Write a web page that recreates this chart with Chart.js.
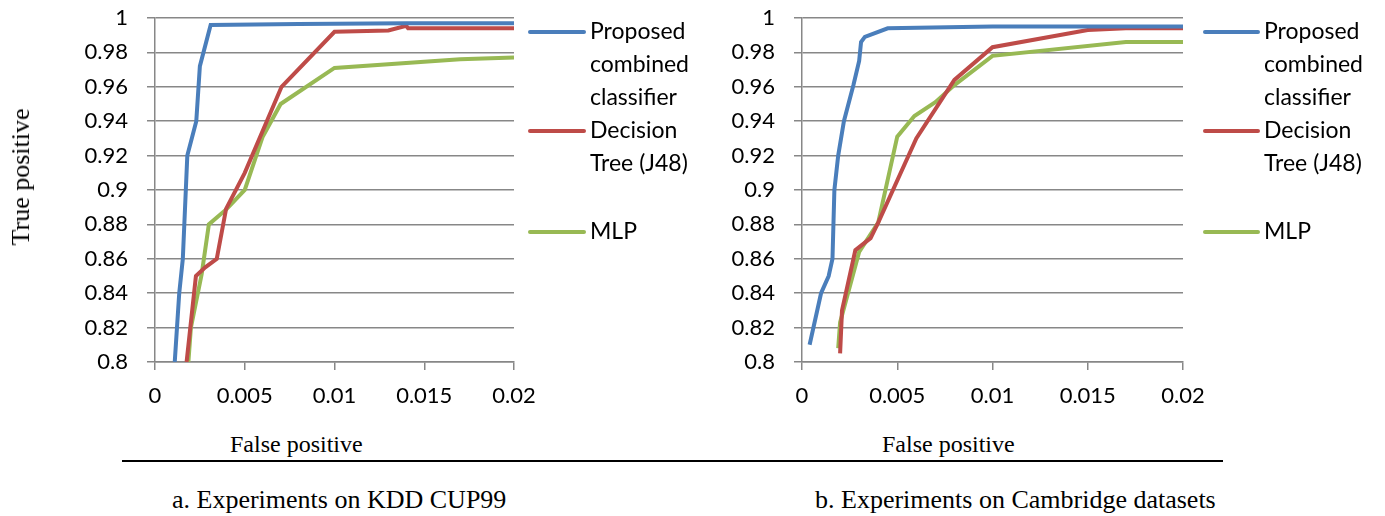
<!DOCTYPE html>
<html>
<head>
<meta charset="utf-8">
<script src="https://cdn.jsdelivr.net/npm/chart.js@4.4.1/dist/chart.umd.min.js"></script>
<style>
body { margin: 0; background: #fff; width: 1385px; height: 516px; position: relative; overflow: hidden; }
canvas { position: absolute; top: 0; }
#kddChart { left: 0; }
#camChart { left: 650px; }
.serif { position: absolute; font-family: "Liberation Serif", "Times New Roman", serif; color: #000; white-space: nowrap; line-height: 1; }
.axis-x { font-size: 24px; top: 432px; }
.caption { font-size: 26px; top: 487px; }
#yTitle { font-size: 26px; left: 21px; top: 177px; transform: translate(-50%, -50%) rotate(-90deg); }
#rule { position: absolute; left: 122px; width: 1101px; top: 460px; height: 2px; background: #000; }
</style>
</head>
<body>
<canvas id="kddChart" width="700" height="420"></canvas>
<canvas id="camChart" width="735" height="420"></canvas>
<div class="serif" id="yTitle">True positive</div>
<div class="serif axis-x" style="left:230px">False positive</div>
<div class="serif axis-x" style="left:882px">False positive</div>
<div id="rule"></div>
<div class="serif caption" style="left:172px">a. Experiments on KDD CUP99</div>
<div class="serif caption" style="left:815px">b. Experiments on Cambridge datasets</div>
<script>
// tick values
const xTicks = [0, 0.005, 0.01, 0.015, 0.02];
const yTicks = [0.8, 0.82, 0.84, 0.86, 0.88, 0.9, 0.92, 0.94, 0.96, 0.98, 1];

const seriesLabels = [['Proposed', 'combined', 'classifier'], ['Decision', 'Tree (J48)'], ['MLP']];
const seriesColors = ['#4A7EBB', '#BE4B48', '#98B954'];

// a. KDD CUP99 (false positive / true positive)
const kddProposedFp = [0.0011, 0.00135, 0.00155, 0.0018, 0.0023, 0.0025, 0.0031, 0.008, 0.014, 0.02];
const kddProposedTp = [0.8, 0.84, 0.86, 0.92, 0.94, 0.972, 0.996, 0.9965, 0.997, 0.997];
const kddTreeFp = [0.00176, 0.00228, 0.0028, 0.00344, 0.00396, 0.005, 0.00705, 0.01, 0.013, 0.014, 0.0141, 0.02];
const kddTreeTp = [0.8, 0.85, 0.855, 0.86, 0.889, 0.91, 0.96, 0.992, 0.9928, 0.9955, 0.994, 0.994];
const kddMlpFp = [0.00186, 0.002, 0.0026, 0.003, 0.004, 0.005, 0.006, 0.007, 0.01, 0.017, 0.02];
const kddMlpTp = [0.8, 0.82, 0.851, 0.88, 0.889, 0.9, 0.931, 0.95, 0.971, 0.976, 0.977];

// b. Cambridge datasets
const camProposedFp = [0.0004, 0.001, 0.0014, 0.0016, 0.0017, 0.0019, 0.0022, 0.0027, 0.003, 0.0031, 0.0033, 0.0045, 0.01, 0.02];
const camProposedTp = [0.81, 0.84, 0.85, 0.86, 0.9, 0.92, 0.94, 0.961, 0.975, 0.986, 0.989, 0.994, 0.995, 0.995];
const camTreeFp = [0.002, 0.0021, 0.0028, 0.0036, 0.004, 0.006, 0.008, 0.01, 0.015, 0.017, 0.02];
const camTreeTp = [0.805, 0.83, 0.865, 0.872, 0.881, 0.93, 0.964, 0.983, 0.993, 0.994, 0.994];
const camMlpFp = [0.0019, 0.002, 0.003, 0.004, 0.005, 0.0059, 0.007, 0.008, 0.01, 0.017, 0.02];
const camMlpTp = [0.808, 0.823, 0.864, 0.881, 0.931, 0.943, 0.951, 0.961, 0.978, 0.986, 0.986];

const gridColor = '#878787';
const tickFont = { family: 'Lato', size: 22 };

function toPoints(xs, ys) {
    return xs.map((x, i) => ({ x: x, y: ys[i] }));
}

// legend drawn at the right of the plot, with wrapped labels
const sideLegend = {
    id: 'sideLegend',
    afterDraw(chart, args, opts) {
        const ctx = chart.ctx;
        const x0 = chart.chartArea.right + opts.gap;
        ctx.save();
        ctx.font = '23px Lato';
        ctx.textBaseline = 'middle';
        ctx.lineCap = 'round';
        chart.data.datasets.forEach((ds, i) => {
            const y = opts.rows[i];
            ctx.strokeStyle = ds.borderColor;
            ctx.lineWidth = 4;
            ctx.beginPath();
            ctx.moveTo(x0, y);
            ctx.lineTo(x0 + opts.lineLen, y);
            ctx.stroke();
            ctx.fillStyle = '#000';
            seriesLabels[i].forEach((t, j) => {
                ctx.fillText(t, x0 + opts.lineLen + 6, y + j * 33);
            });
        });
        ctx.restore();
    }
};

function makeChart(id, series, padding, legendOpts) {
    const ctx = document.getElementById(id).getContext('2d');
    return new Chart(ctx, {
        type: 'line',
        data: {
            datasets: series.map((pts, i) => ({
                label: seriesLabels[i].join(' '),
                data: pts,
                borderColor: seriesColors[i],
                backgroundColor: seriesColors[i],
                borderWidth: 4,
                pointRadius: 0,
                tension: 0,
                fill: false
            }))
        },
        options: {
            responsive: false,
            animation: false,
            layout: { padding: padding },
            plugins: {
                legend: { display: false },
                tooltip: { enabled: false },
                sideLegend: legendOpts
            },
            scales: {
                x: {
                    type: 'linear',
                    min: 0,
                    max: 0.02,
                    afterBuildTicks: (scale) => { scale.ticks = xTicks.map(v => ({ value: v })); },
                    afterFit: (scale) => { scale.height = 58; scale.paddingLeft = 0; scale.paddingRight = 0; },
                    ticks: { font: tickFont, color: '#000', padding: 13, maxRotation: 0, autoSkip: false, callback: (v) => String(v) },
                    grid: { drawOnChartArea: false, drawTicks: true, tickLength: 8, color: gridColor, lineWidth: 1.5 },
                    border: { display: true, color: gridColor, width: 1.5 }
                },
                y: {
                    min: 0.8,
                    max: 1,
                    afterBuildTicks: (scale) => { scale.ticks = yTicks.map(v => ({ value: v })); },
                    afterFit: (scale) => { scale.width = 90; scale.paddingTop = 0; scale.paddingBottom = 0; },
                    ticks: { font: tickFont, color: '#000', padding: 19, autoSkip: false, callback: (v) => String(v) },
                    grid: { drawTicks: true, tickLength: 8, color: gridColor, lineWidth: 1.5 },
                    border: { display: true, color: gridColor, width: 1.5 }
                }
            }
        },
        plugins: [sideLegend]
    });
}

makeChart('kddChart', [
    toPoints(kddProposedFp, kddProposedTp),
    toPoints(kddTreeFp, kddTreeTp),
    toPoints(kddMlpFp, kddMlpTp)
], { left: 65, top: 18, right: 186, bottom: 0 }, { gap: 16, lineLen: 54, rows: [32, 131, 232] });

makeChart('camChart', [
    toPoints(camProposedFp, camProposedTp),
    toPoints(camTreeFp, camTreeTp),
    toPoints(camMlpFp, camMlpTp)
], { left: 62, top: 18, right: 202, bottom: 0 }, { gap: 22, lineLen: 53, rows: [32, 131, 232] });
</script>
</body>
</html>
